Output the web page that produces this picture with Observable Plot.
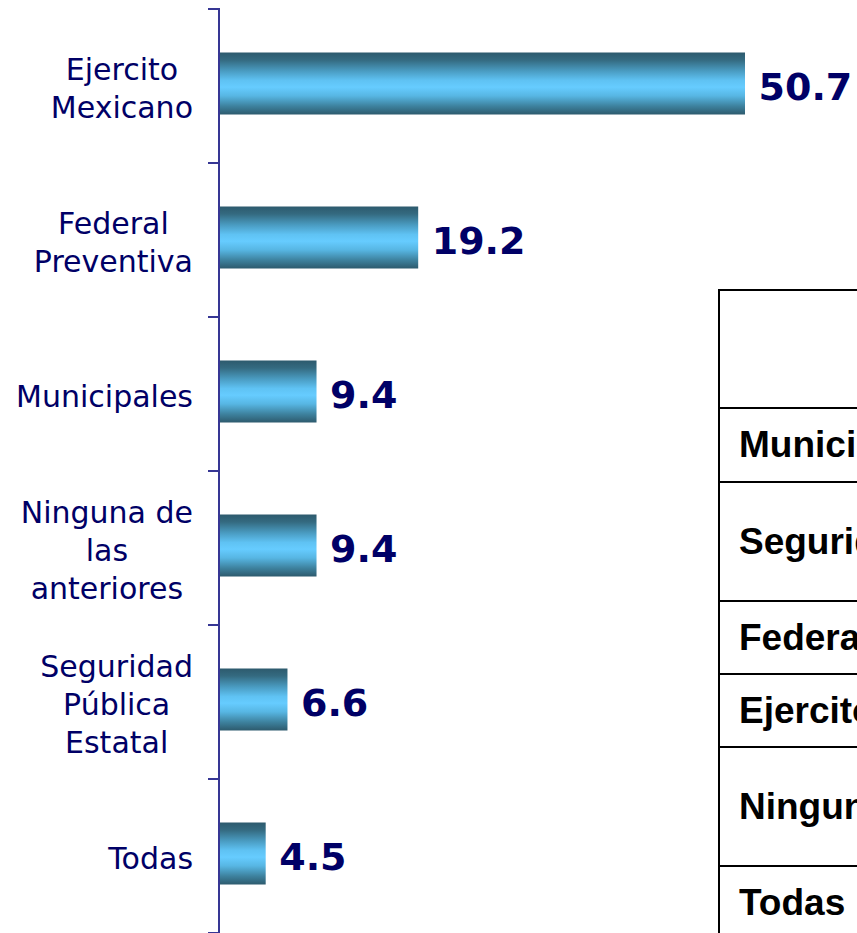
<!DOCTYPE html>
<html>
<head>
<meta charset="utf-8">
<script src="https://cdn.jsdelivr.net/npm/d3@7"></script>
<script src="https://cdn.jsdelivr.net/npm/@observablehq/plot@0.6"></script>
<style>
  html, body { margin: 0; padding: 0; background: #fff; overflow: hidden; }
  #wrap { position: relative; width: 857px; height: 933px; overflow: hidden; }
  #tbl { position: absolute; left: 718px; top: 289px; border-collapse: collapse;
         font-family: "Liberation Sans", Arial, sans-serif; font-weight: bold; font-size: 37px; color: #000; }
  #tbl td { border: 2px solid #000; padding: 0 0 0 19px; white-space: nowrap; vertical-align: middle; width: 600px; }
</style>
</head>
<body>
<div id="wrap"></div>
<script>
// ---- data ----
const categories = ["Ejercito\nMexicano", "Federal\nPreventiva", "Municipales", "Ninguna de\nlas\nanteriores", "Seguridad\nPública\nEstatal", "Todas"];
const values = [50.7, 19.2, 9.4, 9.4, 6.6, 4.5];
const valueLabels = ["50.7", "19.2", "9.4", "9.4", "6.6", "4.5"];
const tableRows = ["", "Municipales", "Seguridad Pública Estatal", "Federal Preventiva", "Ejercito Mexicano", "Ninguna de las anteriores", "Todas"];
const tableRowHeights = [118, 74, 119, 73, 73, 119, 74];

const data = categories.map((c, i) => ({cat: c, v: values[i], lab: valueLabels[i]}));

const navy = "#000066";
const axisColor = "#363694";

// gradient defs
const defs = () => {
  const svg = d3.create("svg:defs");
  const g = svg.append("linearGradient").attr("id", "barGrad").attr("x1", 0).attr("x2", 0).attr("y1", 0).attr("y2", 1);
  [[0, "#2d5a6d"], [0.12, "#346a80"], [0.3, "#4a9cc2"], [0.45, "#5fc2f3"], [0.56, "#66ccff"], [0.7, "#57b6e3"], [0.86, "#3e83a0"], [1, "#2d5a6d"]]
    .forEach(([o, c]) => g.append("stop").attr("offset", o).attr("stop-color", c));
  return svg.node();
};

// category boundary ticks + axis line (derived from the scales)
const boundaryTicks = (index, scales) => {
  const y = scales.y, x = scales.x;
  const bw = typeof y.bandwidth === "function" ? y.bandwidth() : y.bandwidth;
  const step = y(categories[1]) - y(categories[0]);
  const x0 = x(0);
  const g = d3.create("svg:g").attr("stroke", axisColor).attr("stroke-width", 2);
  const ys = categories.map(c => y(c) - (step - bw) / 2);
  ys.push(ys[ys.length - 1] + step);
  ys.forEach(v => g.append("line").attr("x1", x0 - 11).attr("x2", x0).attr("y1", v).attr("y2", v));
  g.append("line").attr("x1", x0).attr("x2", x0).attr("y1", ys[0] - 1).attr("y2", ys[ys.length - 1]);
  return g.node();
};

const chart = Plot.plot({
  width: 857,
  height: 933,
  marginTop: 8,
  marginBottom: -1,
  marginLeft: 219,
  marginRight: 0,
  style: {background: "transparent"},
  x: {domain: [0, 50.7], range: [219, 745], axis: null},
  y: {domain: categories, paddingInner: 0.6, paddingOuter: 0.3, axis: null},
  marks: [
    defs,
    Plot.barX(data, {x: "v", y: "cat", fill: "url(#barGrad)", insetLeft: -1, insetTop: -2.5, insetBottom: 2.5}),
    boundaryTicks,
    Plot.text(data, {x: 0, y: "cat", text: "cat", textAnchor: "middle", lineAnchor: "middle",
      lineHeight: 1.27, fontSize: 30, fill: navy, fontFamily: "DejaVu Sans, Verdana, sans-serif"}),
    Plot.text(data, {x: "v", y: "cat", text: "lab", dx: 13, dy: 1.5, textAnchor: "start",
      fontSize: 38, fontWeight: "bold", fill: navy, fontFamily: "DejaVu Sans, Verdana, sans-serif"})
  ]
});

const wrap = document.getElementById("wrap");
wrap.appendChild(chart);

// align each category label block so its widest line ends at 193px, lines centred on each other
const svgEl = wrap.querySelector("svg");
const svgRect = svgEl.getBoundingClientRect();
const catSet = new Set(categories.map(c => c.replace(/\n/g, "")));
svgEl.querySelectorAll("text").forEach(t => {
  if (!catSet.has(t.textContent)) return;
  const r = t.getBoundingClientRect();
  const shift = 193 - (r.right - svgRect.left);
  const tr = t.getAttribute("transform") || "";
  t.setAttribute("transform", `translate(${shift},0) ${tr}`.trim());
});

// table overlay
const tbl = document.createElement("table");
tbl.id = "tbl";
tableRows.forEach((r, i) => {
  const tr = document.createElement("tr");
  tr.style.height = tableRowHeights[i] + "px";
  const td = document.createElement("td");
  td.textContent = r;
  tr.appendChild(td);
  tbl.appendChild(tr);
});
wrap.appendChild(tbl);
</script>
</body>
</html>
